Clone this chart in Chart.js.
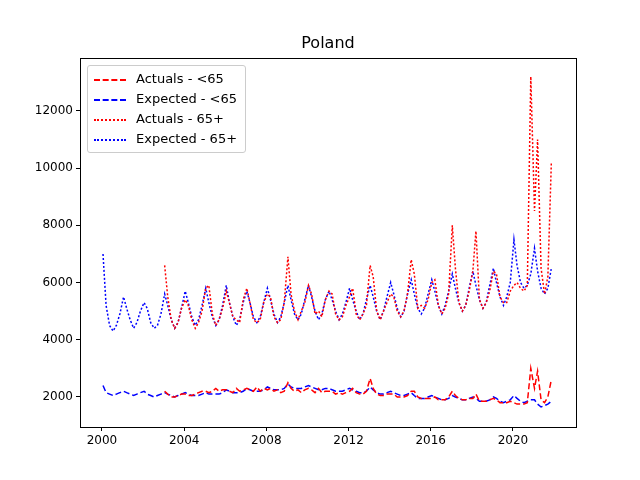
<!DOCTYPE html>
<html>
<head>
<meta charset="utf-8">
<script src="https://cdn.jsdelivr.net/npm/chart.js@4"></script>
<style>
body{margin:0;background:#fff;font-family:"DejaVu Sans",sans-serif;}
#wrap{position:relative;width:640px;height:480px;}
#title{position:absolute;top:33px;left:80px;width:496px;text-align:center;font-size:16px;color:#000;}
#legend{position:absolute;left:87px;top:65px;border:1px solid #ccc;border-radius:3px;background:rgba(255,255,255,0.85);padding:3px 8px 3px 6px;font-size:13px;color:#000;}
#legend div{height:20px;line-height:20px;white-space:nowrap;}
#legend span{display:inline-block;width:32px;margin-right:10px;vertical-align:middle;}
</style>
</head>
<body>
<div id="wrap">
<canvas id="chart" width="640" height="480"></canvas>
<div id="title">Poland</div>
<div id="legend">
<div><span style="border-top:2px dashed red"></span>Actuals - &lt;65</div>
<div><span style="border-top:2px dashed blue"></span>Expected - &lt;65</div>
<div><span style="border-top:2px dotted red"></span>Actuals - 65+</div>
<div><span style="border-top:2px dotted blue"></span>Expected - 65+</div>
</div>
</div>
<script>
// six readings per year: Jan, Mar, May, Jul, Sep, Nov
var months = [0.05, 0.2, 0.37, 0.54, 0.7, 0.87];
var firstYear = 2000, lastYear = 2021, actualsStart = 2003;
var xTicks = [2000, 2004, 2008, 2012, 2016, 2020];
var yTicks = [2000, 4000, 6000, 8000, 10000, 12000];

var expected65plus = [
  7000,5200,4500,4300,4500,4900, 5500,5100,4700,4400,4600,5000, 5300,5100,4600,4400,4500,4900,
  5600,5200,4700,4400,4600,5100, 5700,5300,4800,4500,4700,5200, 5800,5300,4800,4500,4700,5200,
  5900,5300,4800,4500,4700,5300, 5700,5300,4800,4600,4800,5300, 5800,5400,4900,4600,4800,5300,
  5900,5400,4900,4700,4900,5400, 5900,5500,5000,4700,4900,5400, 5700,5400,5000,4700,4900,5300,
  5800,5400,5000,4700,4900,5400, 5900,5500,5000,4700,5000,5500, 6000,5600,5100,4800,5000,5600,
  6100,5600,5100,4900,5100,5600, 6100,5700,5200,4900,5200,5700, 6300,5800,5300,5000,5200,5800,
  6400,5900,5400,5100,5300,5900, 6500,6000,5500,5200,5500,6000, 7500,6600,6000,5800,5900,6300,
  7200,6400,5800,5600,5800,6500
];
var actuals65plus = [
  6600,5500,4700,4400,4600,5100, 5400,5200,4700,4400,4600,5000, 5800,5900,4900,4500,4700,5100,
  5700,5300,4800,4700,4600,5400, 5800,5300,4700,4600,4700,5300, 5600,5500,4800,4600,4700,5300,
  6900,5600,5000,4700,5000,5300, 5900,5600,4900,5000,4800,5400, 5700,5600,4900,4700,4800,5200,
  5500,5800,4900,4700,4900,5200, 6600,6200,5000,4700,5000,5300, 5600,5500,5000,4800,5000,5600,
  6800,6300,5100,5200,5100,5400, 6000,6100,5200,4900,5100,5600, 8000,6500,5300,5000,5200,5700,
  6400,7800,5400,5100,5300,5700, 6400,6300,5500,5300,5300,5700, 5900,6000,5800,5700,5900,13200,
  8500,11000,6500,5600,6200,10200
];
var expectedUnder65 = [
  2400,2150,2100,2050,2100,2150, 2200,2150,2100,2050,2100,2150, 2200,2100,2050,2000,2050,2100,
  2150,2100,2050,2000,2050,2100, 2150,2100,2050,2050,2050,2100, 2150,2100,2100,2100,2100,2150,
  2250,2200,2150,2150,2150,2200, 2300,2250,2200,2200,2200,2250, 2350,2300,2250,2250,2250,2300,
  2450,2350,2300,2300,2300,2350, 2400,2350,2300,2250,2250,2300, 2300,2250,2200,2200,2200,2250,
  2300,2250,2200,2150,2150,2200, 2350,2250,2150,2100,2100,2150, 2200,2150,2100,2050,2050,2100,
  2150,2050,1950,1950,1950,2000, 2050,2000,1950,1900,1900,1950, 2050,2000,1950,1900,1900,1950,
  2000,1950,1850,1850,1850,1900, 2000,1950,1850,1800,1850,1900, 2050,1950,1850,1800,1850,1900,
  1900,1750,1650,1700,1750,1850
];
var actualsUnder65 = [
  2200,2100,2000,2000,2050,2100, 2100,2050,2050,2100,2150,2200, 2200,2150,2200,2300,2200,2250,
  2250,2200,2150,2300,2200,2250, 2300,2250,2200,2350,2200,2300, 2250,2300,2200,2250,2150,2200,
  2500,2300,2200,2250,2150,2250, 2300,2250,2150,2300,2150,2200, 2200,2200,2100,2150,2100,2150,
  2200,2300,2150,2100,2100,2200, 2650,2300,2100,2050,2050,2100, 2100,2100,2000,2000,2000,2050,
  2200,2200,2000,1950,1950,1950, 1950,2000,1900,1900,1900,2000, 2200,2050,1950,1900,1900,1950,
  1950,2100,1850,1850,1850,1900, 1950,1900,1800,1800,1800,1850, 1800,1750,1750,1750,1800,3000,
  2300,2900,1900,1800,2000,2600
];

function series(values, startYear){
  var pts = [];
  for (var i = 0; i < values.length; i++){
    var yr = startYear + Math.floor(i / months.length);
    pts.push({x: yr + months[i % months.length], y: values[i]});
  }
  return pts;
}

function ds(label, values, start, color, dash){
  return {label: label, data: series(values, start), borderColor: color, borderWidth: 1.5,
          borderDash: dash, pointRadius: 0, tension: 0, fill: false};
}

// matplotlib-style full frame around the plot area
var frame = {
  id: 'frame',
  afterDraw: function(chart){
    var a = chart.chartArea, c = chart.ctx;
    c.save();
    c.strokeStyle = '#000';
    c.lineWidth = 1;
    c.strokeRect(a.left + 0.5, a.top + 0.5, a.right - a.left, a.bottom - a.top);
    c.restore();
  }
};

var tickGrid = {drawOnChartArea: false, drawTicks: true, tickLength: 4, color: '#000'};
var tickFont = {family: 'DejaVu Sans', size: 12};

var ctx = document.getElementById('chart').getContext('2d');
new Chart(ctx, {
  type: 'line',
  data: {
    datasets: [
      ds('Actuals - <65', actualsUnder65, actualsStart, 'red', [6, 3]),
      ds('Expected - <65', expectedUnder65, firstYear, 'blue', [6, 3]),
      ds('Actuals - 65+', actuals65plus, actualsStart, 'red', [2, 2]),
      ds('Expected - 65+', expected65plus, firstYear, 'blue', [2, 2])
    ]
  },
  options: {
    responsive: false,
    animation: false,
    layout: {padding: {top: 58, right: 64, left: 0, bottom: 0}},
    plugins: {legend: {display: false}, title: {display: false}, tooltip: {enabled: false}},
    scales: {
      x: {
        type: 'linear', min: 1998.93, max: 2023.07,
        grid: tickGrid,
        border: {color: '#000'},
        ticks: {color: '#000', font: tickFont, callback: function(v){ return String(v); }},
        afterBuildTicks: function(a){ a.ticks = xTicks.map(function(v){ return {value: v}; }); },
        afterFit: function(a){ a.height = 53; }
      },
      y: {
        min: 950, max: 13850,
        grid: tickGrid,
        border: {color: '#000'},
        ticks: {color: '#000', font: tickFont, callback: function(v){ return String(v); }},
        afterBuildTicks: function(a){ a.ticks = yTicks.map(function(v){ return {value: v}; }); },
        afterFit: function(a){ a.width = 80; }
      }
    }
  },
  plugins: [frame]
});
</script>
</body>
</html>
